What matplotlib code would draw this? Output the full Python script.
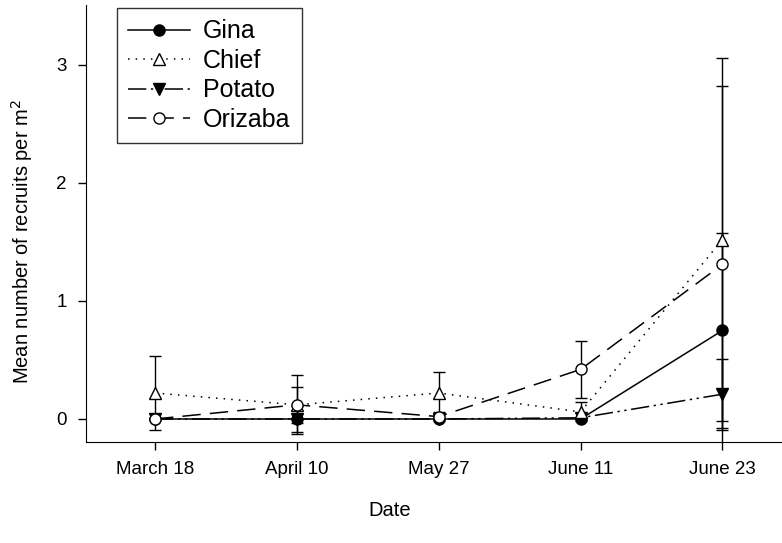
import matplotlib
matplotlib.use("Agg")
from matplotlib import pyplot as plt
from matplotlib.lines import Line2D
from numpy import arange

plt.rcParams['font.family'] = ['Liberation Sans', 'DejaVu Sans']

dates = ["March 18", "April 10", "May 27", "June 11", "June 23"]

gina = [0.0, 0.0, 0.0, 0.0, 0.75]
gina_err = [0.0, 0.11, 0.0, 0.0, 0.83]
chief = [0.22, 0.12, 0.22, 0.06, 1.52]
chief_err = [0.31, 0.15, 0.18, 0.08, 1.54]
potato = [0.0, 0.0, 0.0, 0.01, 0.21]
potato_err = [0.0, 0.0, 0.0, 0.0, 0.30]
orizaba = [0.0, 0.12, 0.02, 0.42, 1.31]
orizaba_err = [0.0, 0.25, 0.04, 0.24, 1.51]

names = ["Gina", "Chief", "Potato", "Orizaba"]
styles = {
    "Gina": dict(marker="o", mfc="black", linestyle="-"),
    "Chief": dict(marker="^", mfc="white", linestyle=(0, (1, 4))),
    "Potato": dict(marker="v", mfc="black", linestyle=(0, (12, 3, 1.5, 3, 1.5, 3))),
    "Orizaba": dict(marker="o", mfc="white", linestyle=(0, (12, 6))),
}

x = arange(1, len(dates) + 1)

fig = plt.figure(figsize=(7.82, 5.43), dpi=100)
ax = fig.add_axes([86/782, 101/543, 696/782, 437/543])

common = dict(color="black", markersize=8, lw=1.1, markeredgewidth=1.0, mec="black")

# potato first so the Gina markers sit on top of it
for name, y, err in [("Potato", potato, potato_err), ("Gina", gina, gina_err),
                     ("Chief", chief, chief_err), ("Orizaba", orizaba, orizaba_err)]:
    ax.errorbar(x, y, yerr=err, ecolor="black", elinewidth=1.0, capsize=4.5,
                capthick=1.0, **common, **styles[name])

handles = [Line2D([], [], **common, **styles[n]) for n in names]

ax.set_xlim(0.513, 5.42)
ax.set_ylim(-0.195, 3.508)
ax.set_xticks(x)
ax.set_xticklabels(dates)
ax.set_yticks([0, 1, 2, 3])
ax.tick_params(direction="out", length=6, width=1, labelsize=13.5, pad=8)
for s in ["top", "right"]:
    ax.spines[s].set_visible(False)

ax.set_xlabel("Date", fontsize=14.5)
ax.set_ylabel("Mean number of recruits per m$^2$", fontsize=14.5)
ax.xaxis.set_label_coords(0.437, -0.135)
ax.yaxis.set_label_coords(-0.073, 0.458)

leg = ax.legend(handles, names,
                loc="upper left", bbox_to_anchor=(31/696, 1 - 3/437), fontsize=18,
                frameon=True, fancybox=False, edgecolor="black", handlelength=2.45,
                handletextpad=0.55, labelspacing=0.22, borderpad=0.45, borderaxespad=0)
leg.get_frame().set_linewidth(1.0)

fig.savefig("out.png", dpi=100)
